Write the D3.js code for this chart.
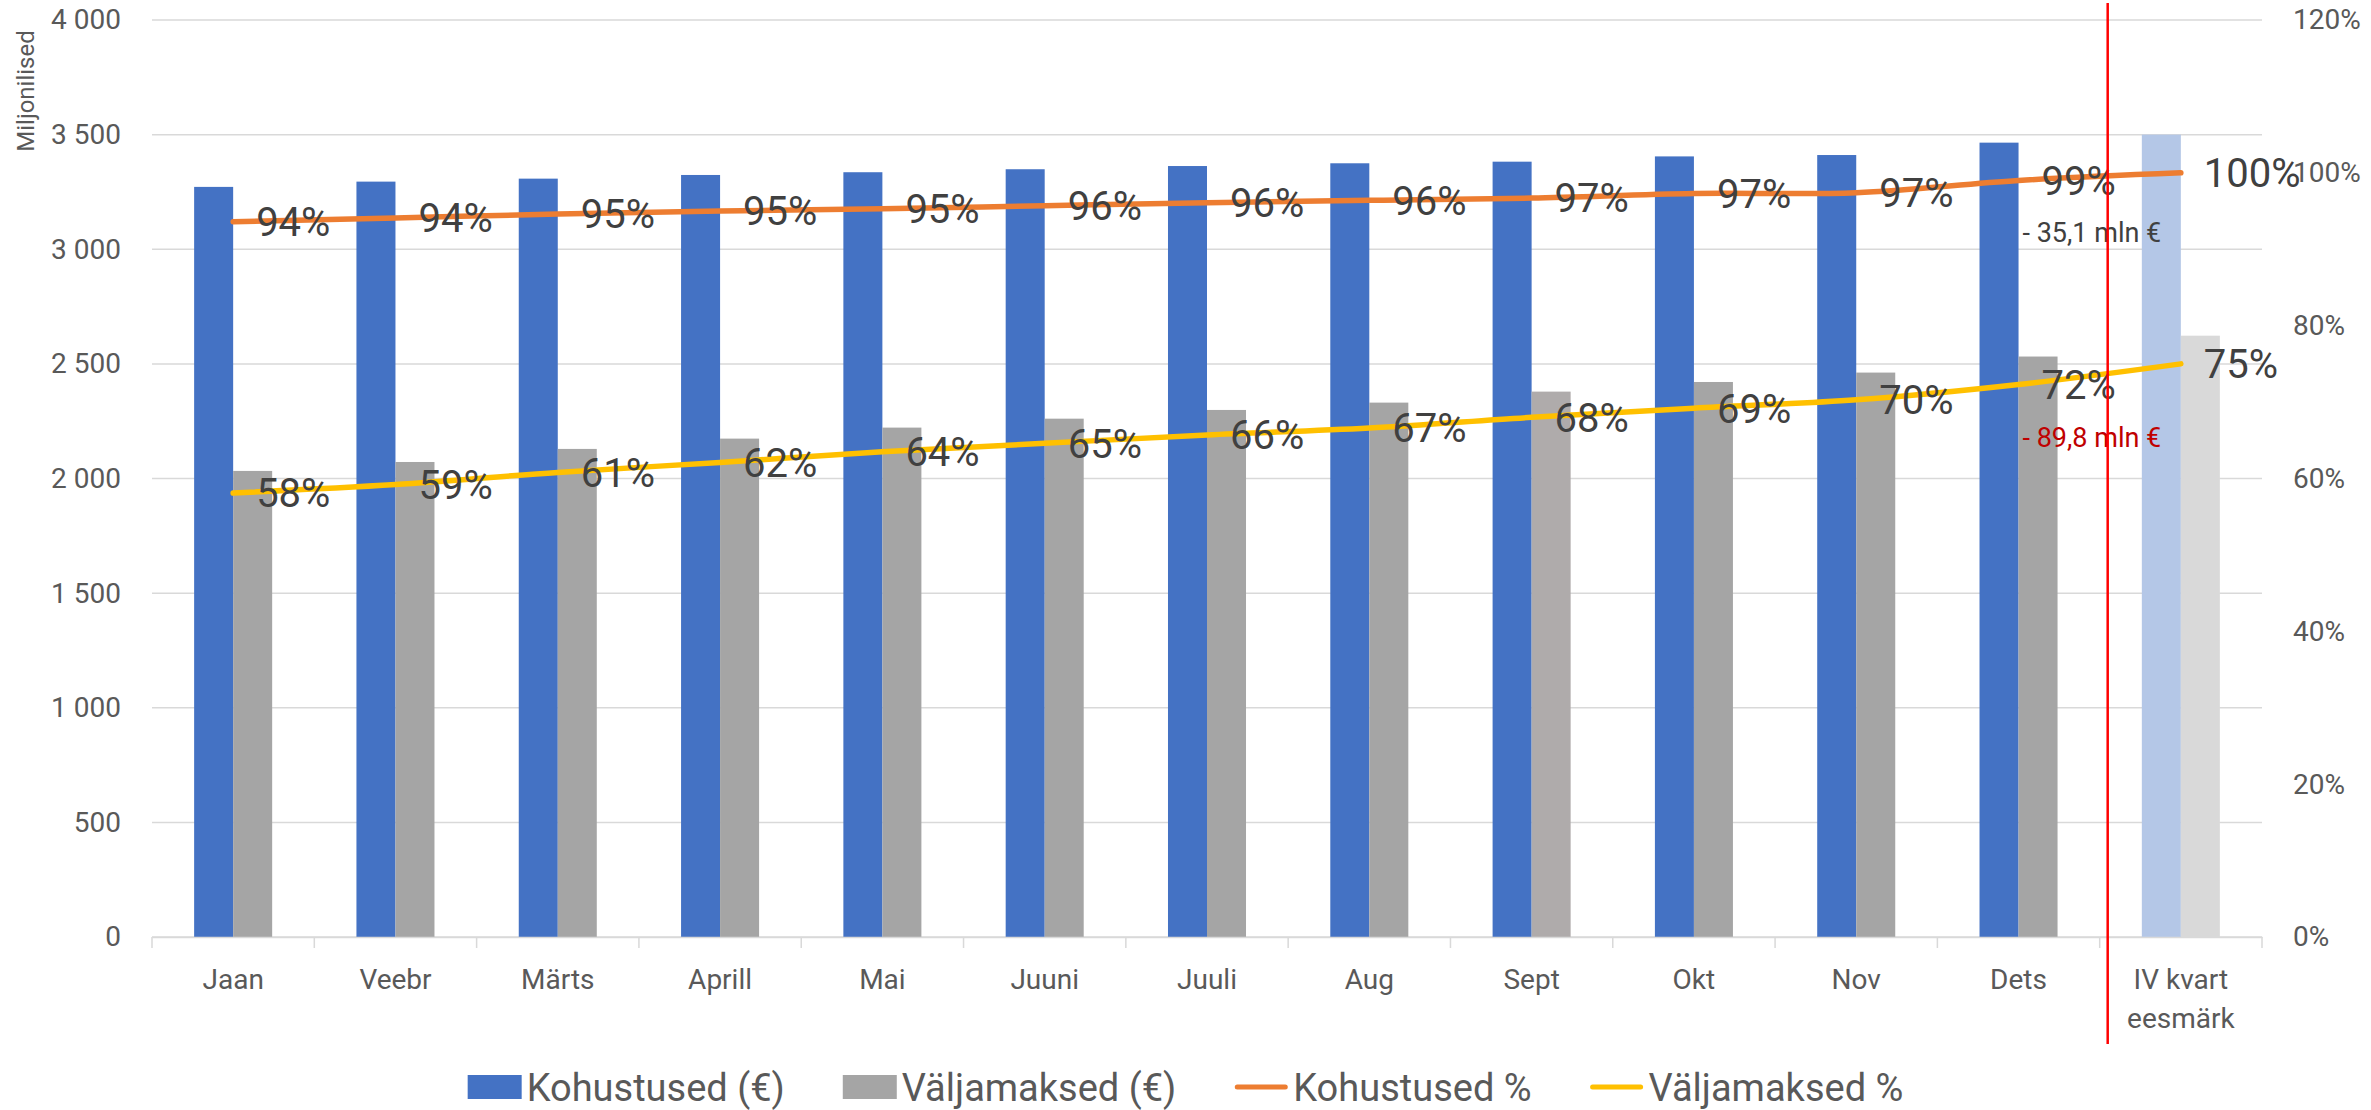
<!DOCTYPE html>
<html>
<head>
<meta charset="utf-8">
<script src="https://cdn.jsdelivr.net/npm/d3@7"></script>
<style>
  body { margin: 0; background: #fff; }
  svg text { font-family: Roboto, "Open Sans", sans-serif; }
</style>
</head>
<body>
<div id="chart"></div>
<script>
// chart data (mln €)
const categories = ["Jaan","Veebr","Märts","Aprill","Mai","Juuni","Juuli","Aug","Sept","Okt","Nov","Dets","IV kvart eesmärk"];
const kohustused = [3272,3295,3308,3324,3336,3349,3363,3375,3382,3405,3411,3465,3500];
const valjamaksed = [2033,2072,2129,2174,2222,2261,2299,2331,2379,2421,2462,2532,2623];
const kohustusedPct = [93.6,94.1,94.6,95.0,95.3,95.7,96.1,96.4,96.7,97.3,97.4,99.0,100.0];
const valjamaksedPct = [58.1,59.2,60.8,62.1,63.5,64.6,65.7,66.6,68.0,69.2,70.3,72.3,75.0];
const leftTicks = [0,500,1000,1500,2000,2500,3000,3500,4000];
const rightTicks = [0,20,40,60,80,100,120];
const legendItems = ["Kohustused (€)","Väljamaksed (€)","Kohustused %","Väljamaksed %"];
const gapKohustused = "- 35,1 mln €";
const gapValjamaksed = "- 89,8 mln €";

const svgWidth = 2371;
const svgHeight = 1110;
const margin = {t:20, r:109, b:173, l:152};
const width = svgWidth - margin.l - margin.r;
const height = svgHeight - margin.t - margin.b;

const svg = d3.select("#chart").append("svg")
  .attr("width", svgWidth)
  .attr("height", svgHeight);

const g = svg.append("g").attr("transform", `translate(${margin.l},${margin.t})`);

// scales
const x = d3.scaleBand().domain(categories).range([0, width]);
const xInner = d3.scaleBand().domain(["k","v"]).range([0, x.bandwidth()]).paddingOuter(1.08);
const y = d3.scaleLinear().domain([0,4000]).range([height,0]);
const y2 = d3.scaleLinear().domain([0,120]).range([height,0]);

const last = categories[categories.length-1];
const blueFill = c => c === last ? "#B4C7E7" : "#4472C4";
const greyFill = c => c === last ? "#D9D9D9" : (c === "Sept" ? "#AFABAB" : "#A5A5A5");

// gridlines
g.append("g").selectAll("line")
  .data(leftTicks)
  .enter().append("line")
  .attr("x1",0).attr("x2",width)
  .attr("y1",d=>y(d)).attr("y2",d=>y(d))
  .attr("stroke","#D9D9D9").attr("stroke-width",1.5);

// axes
const loc = d3.formatLocale({decimal:",", thousands:" ", grouping:[3], currency:["","€"]});
const leftAxis = d3.axisLeft(y).tickValues(leftTicks).tickFormat(loc.format(",")).tickSize(0).tickPadding(31);
const rightAxis = d3.axisRight(y2).tickValues(rightTicks).tickFormat(d=>d+"%").tickSize(0).tickPadding(31);

const yAxis = g.append("g").call(leftAxis);
const yAxis2 = g.append("g").attr("transform",`translate(${width},0)`).call(rightAxis);
[yAxis, yAxis2].forEach(a => {
  a.select(".domain").remove();
  a.selectAll("text").attr("font-size","28px").attr("fill","#595959").attr("font-family","Roboto");
});

// bars
const groups = g.append("g").selectAll("g")
  .data(categories.map((c,i)=>({c, k:kohustused[i], v:valjamaksed[i]})))
  .enter().append("g")
  .attr("transform", d=>`translate(${x(d.c)},0)`);

groups.append("rect")
  .attr("x", xInner("k")).attr("width", xInner.bandwidth())
  .attr("y", d=>y(d.k)).attr("height", d=>height-y(d.k))
  .attr("fill", d=>blueFill(d.c));
groups.append("rect")
  .attr("x", xInner("v")).attr("width", xInner.bandwidth())
  .attr("y", d=>y(d.v)).attr("height", d=>height-y(d.v))
  .attr("fill", d=>greyFill(d.c));

// x axis
const bottomAxis = d3.axisBottom(x).tickSize(0).tickPadding(32);
const xAxis = g.append("g").attr("transform",`translate(0,${height})`).call(bottomAxis);
xAxis.select(".domain").attr("stroke","#D9D9D9").attr("stroke-width",1.5);
xAxis.selectAll("text").attr("font-size","28px").attr("fill","#595959").attr("font-family","Roboto")
  .each(function(d){
    if (d === last) {
      const t = d3.select(this).text(null);
      t.append("tspan").attr("x",0).attr("dy","0.71em").text("IV kvart");
      t.append("tspan").attr("x",0).attr("dy","1.39em").text("eesmärk");
    }
  });
xAxis.append("g").selectAll("line")
  .data(categories.map(c=>x(c)).concat([width]))
  .enter().append("line")
  .attr("x1",d=>d).attr("x2",d=>d).attr("y1",0).attr("y2",11)
  .attr("stroke","#D9D9D9").attr("stroke-width",1.5);

// lines
const cx = i => x(categories[i]) + x.bandwidth()/2;
const line = d3.line().x((d,i)=>cx(i)).y(d=>y2(d)).curve(d3.curveCatmullRom);

g.append("path").datum(kohustusedPct).attr("d",line)
  .attr("fill","none").attr("stroke","#ED7D31").attr("stroke-width",5.5).attr("stroke-linecap","round");
g.append("path").datum(valjamaksedPct).attr("d",line)
  .attr("fill","none").attr("stroke","#FFC000").attr("stroke-width",5.5).attr("stroke-linecap","round");

// data labels
[kohustusedPct, valjamaksedPct].forEach(series => {
  g.append("g").selectAll("text")
    .data(series)
    .enter().append("text")
    .attr("x",(d,i)=>cx(i)+23)
    .attr("y",d=>y2(d))
    .attr("dy","0.36em")
    .attr("font-size","40px")
    .attr("fill","#404040")
    .text(d=>Math.round(d)+"%");
});

// gap annotations at Dets
const iDets = categories.indexOf("Dets");
g.append("text")
  .attr("x", cx(iDets)+4).attr("y", y2(kohustusedPct[iDets])+52).attr("dy","0.36em")
  .attr("font-size","27px").attr("fill","#404040").text(gapKohustused);
g.append("text")
  .attr("x", cx(iDets)+4).attr("y", y2(valjamaksedPct[iDets])+53).attr("dy","0.36em")
  .attr("font-size","27px").attr("fill","#C00000").text(gapValjamaksed);

// red separator before the target
const sepX = x(last) + 8;
g.append("line")
  .attr("x1",sepX).attr("x2",sepX)
  .attr("y1",-17).attr("y2",height+107)
  .attr("stroke","#FF0000").attr("stroke-width",2.5);

// y axis title
svg.append("text")
  .attr("transform",`translate(34,91)rotate(-90)`)
  .attr("text-anchor","middle")
  .attr("font-size","24px").attr("fill","#595959")
  .text("Miljonilised");

// legend
const legend = svg.append("g");
const legendColors = ["#4472C4","#A5A5A5","#ED7D31","#FFC000"];
let lx = 0;
legendItems.forEach((name,i)=>{
  const item = legend.append("g").attr("transform",`translate(${lx},0)`);
  if (i < 2) {
    item.append("rect").attr("x",0).attr("y",-12).attr("width",54).attr("height",24).attr("fill",legendColors[i]);
  } else {
    item.append("line").attr("x1",3).attr("x2",51).attr("y1",0).attr("y2",0)
      .attr("stroke",legendColors[i]).attr("stroke-width",5).attr("stroke-linecap","round");
  }
  const t = item.append("text").attr("x",59).attr("y",13.5)
    .attr("font-size","38px").attr("fill","#595959").text(name);
  lx += 59 + t.node().getComputedTextLength() + 58;
});
const legendW = lx - 58;
legend.attr("transform",`translate(${(svgWidth-legendW)/2},1087)`);
</script>
</body>
</html>
